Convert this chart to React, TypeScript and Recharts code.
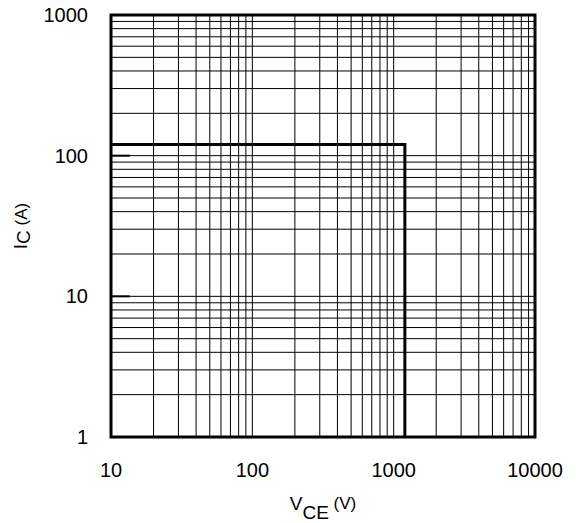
import React from "react";
import {
  LineChart,
  Line,
  XAxis,
  YAxis,
  CartesianGrid,
  ReferenceArea,
  ReferenceLine,
  Label,
} from "recharts";

// Safe operating area boundary
const SOA_VCE = [10, 1200, 1200];
const SOA_IC = [120, 120, 1];

// grid lines (1..9 per decade)
const X_GRID = [
  10, 20, 30, 40, 50, 60, 70, 80, 90,
  100, 200, 300, 400, 500, 600, 700, 800, 900,
  1000, 2000, 3000, 4000, 5000, 6000, 7000, 8000, 9000,
  10000,
];
const Y_GRID = [
  1, 2, 3, 4, 5, 6, 7, 8, 9,
  10, 20, 30, 40, 50, 60, 70, 80, 90,
  100, 200, 300, 400, 500, 600, 700, 800, 900,
  1000,
];

// labelled decades
const X_LABELS = [10, 100, 1000, 10000];
const Y_LABELS = [1, 10, 100, 1000];
const Y_TICK_MARKS = [10, 100];

const FONT = "'Liberation Sans', Arial, Helvetica, sans-serif";

const data = SOA_VCE.map((v, i) => ({ vce: v, ic: SOA_IC[i] }));

function XTick(props: any) {
  const { x, y, payload } = props;
  if (!X_LABELS.includes(payload.value)) return null;
  return (
    <text x={x} y={y + 32} textAnchor="middle" fontSize={20} fontFamily={FONT} fill="#000">
      {payload.value}
    </text>
  );
}

function YTick(props: any) {
  const { x, y, payload } = props;
  if (!Y_LABELS.includes(payload.value)) return null;
  return (
    <text x={x - 15} y={y + 7} textAnchor="end" fontSize={20} fontFamily={FONT} fill="#000">
      {payload.value}
    </text>
  );
}

function XLabel(props: any) {
  const vb = props.viewBox;
  const cx = vb.x + vb.width / 2;
  return (
    <text x={cx} y={510} textAnchor="middle" fontSize={19} fontFamily={FONT} fill="#000">
      <tspan>V</tspan>
      <tspan dy={9}>CE</tspan>
      <tspan fontSize={17} dy={-10}> (V)</tspan>
    </text>
  );
}

function YLabel(props: any) {
  const vb = props.viewBox;
  const cy = vb.y + vb.height / 2;
  const cx = 27;
  return (
    <text
      x={cx}
      y={cy}
      transform={`rotate(-90 ${cx} ${cy})`}
      textAnchor="middle"
      fontSize={19}
      fontFamily={FONT}
      fill="#000"
    >
      <tspan>I</tspan>
      <tspan dy={3}>C</tspan>
      <tspan fontSize={17} dy={-3}> (A)</tspan>
    </text>
  );
}

export default function App() {
  return (
    <div style={{ position: "absolute", left: 0, top: 0, width: 579, height: 523, background: "#fff" }}>
      <LineChart width={579} height={523} data={data} margin={{ top: 15, right: 44, left: 0, bottom: 0 }}>
        <CartesianGrid stroke="#000" strokeWidth={1} />
        <XAxis
          dataKey="vce"
          type="number"
          scale="log"
          domain={[10, 10000]}
          allowDataOverflow
          ticks={X_GRID}
          interval={0}
          tick={<XTick />}
          tickLine={false}
          axisLine={false}
          height={86}
        >
          <Label content={<XLabel />} />
        </XAxis>
        <YAxis
          dataKey="ic"
          type="number"
          scale="log"
          domain={[1, 1000]}
          allowDataOverflow
          ticks={Y_GRID}
          interval={0}
          tick={<YTick />}
          tickLine={false}
          axisLine={false}
          width={111}
        >
          <Label content={<YLabel />} />
        </YAxis>
        {Y_TICK_MARKS.map((t) => (
          <ReferenceLine
            key={t}
            segment={[
              { x: 10, y: t },
              { x: 13.6, y: t },
            ]}
            stroke="#000"
            strokeWidth={2}
          />
        ))}
        <ReferenceArea
          x1={10}
          x2={10000}
          y1={1}
          y2={1000}
          fill="none"
          fillOpacity={0}
          stroke="#000"
          strokeWidth={3}
          ifOverflow="visible"
        />
        <Line
          dataKey="ic"
          stroke="#000"
          strokeWidth={3}
          dot={false}
          isAnimationActive={false}
          strokeLinejoin="miter"
        />
      </LineChart>
    </div>
  );
}
